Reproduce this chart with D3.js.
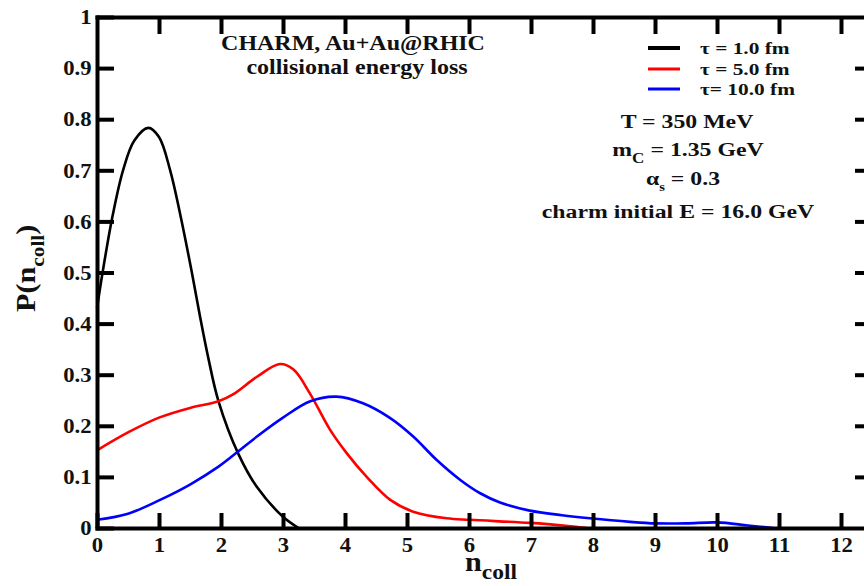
<!DOCTYPE html>
<html lang="en">
<head>
    <meta charset="UTF-8" />
    <title>P(n_coll) charm collisional energy loss</title>
    <script src="https://d3js.org/d3.v7.min.js"></script>
    <style>
        body { margin: 0; background: #fff; }
        text { font-family: "Liberation Serif", "Times New Roman", serif; font-weight: bold; fill: #111; }
    </style>
</head>
<body>
<div id="my_chart"></div>
<script>
    // values
    const nCollTau1 = [0, 0.09, 0.25, 0.42, 0.6, 0.83, 1.0, 1.18, 1.34, 1.53, 1.66, 1.8, 1.96, 2.28, 2.58, 3.0, 3.25];
    const pTau1     = [0.43, 0.5, 0.61, 0.7, 0.758, 0.783, 0.765, 0.7, 0.615, 0.5, 0.415, 0.33, 0.248, 0.145, 0.08, 0.022, 0];

    const nCollTau5 = [0, 0.5, 1.0, 1.5, 1.96, 2.2, 2.58, 2.95, 3.17, 3.44, 3.76, 4.03, 4.35, 4.73, 5.1, 5.64, 6.02, 6.98, 7.52, 7.9];
    const pTau5     = [0.152, 0.187, 0.216, 0.235, 0.248, 0.262, 0.296, 0.321, 0.31, 0.262, 0.192, 0.146, 0.1, 0.055, 0.032, 0.019, 0.016, 0.010, 0.005, 0];

    const nCollTau10 = [0, 0.5, 1.0, 1.5, 1.96, 2.28, 2.58, 3.0, 3.44, 3.86, 4.29, 4.73, 5.1, 5.48, 5.86, 6.18, 6.5, 6.98, 7.5, 7.95, 8.6, 9.0, 9.5, 10.0, 10.5, 10.9];
    const pTau10     = [0.016, 0.028, 0.054, 0.085, 0.12, 0.15, 0.179, 0.216, 0.248, 0.257, 0.244, 0.215, 0.179, 0.133, 0.094, 0.068, 0.05, 0.034, 0.025, 0.019, 0.012, 0.009, 0.009, 0.011, 0.005, 0];

    const seriesNames  = ["τ = 1.0 fm", "τ = 5.0 fm", "τ= 10.0 fm"];
    const seriesColors = ["#000000", "#ff0000", "#0000ff"];

    const xTicks = [0, 1, 2, 3, 4, 5, 6, 7, 8, 9, 10, 11, 12];
    const xTickLabels = ["0", "1", "2", "3", "4", "5", "6", "7", "8", "9", "10", "11", "12"];
    const yTicks = [0, 0.1, 0.2, 0.3, 0.4, 0.5, 0.6, 0.7, 0.8, 0.9, 1];
    const yTickLabels = ["0", "0.1", "0.2", "0.3", "0.4", "0.5", "0.6", "0.7", "0.8", "0.9", "1"];

    const W = 864, H = 586;
    const frame = { left: 97, right: 872, top: 17, bottom: 528 };

    const svg = d3.select("#my_chart").append("svg")
        .attr("width", W).attr("height", H)
        .style("display", "block");

    const x = d3.scaleLinear().domain([0, 12.5]).range([frame.left, frame.right]);
    const y = d3.scaleLinear().domain([0, 1]).range([frame.bottom, frame.top]);

    // curves
    const line = d3.line()
        .x(d => x(d[0]))
        .y(d => y(Math.max(0, d[1])))
        .curve(d3.curveCatmullRom.alpha(0.5));

    const series = [
        d3.zip(nCollTau1, pTau1),
        d3.zip(nCollTau5, pTau5),
        d3.zip(nCollTau10, pTau10)
    ];

    svg.append("g").selectAll("path")
        .data(series)
        .enter()
        .append("path")
        .attr("d", line)
        .attr("fill", "none")
        .attr("stroke", (d, i) => seriesColors[i])
        .attr("stroke-width", 2.6);

    // axes (frame with inward ticks)
    function styleAxis(g) {
        g.select(".domain").attr("stroke", "#000").attr("stroke-width", 4).attr("stroke-linecap", "square");
        g.selectAll(".tick line").attr("stroke", "#000").attr("stroke-width", 4);
        g.selectAll("text").attr("fill", "#111").style("font-size", "21px")
            .style("font-family", "'Liberation Serif', serif").style("font-weight", "bold")
            .attr("transform", "scale(1.08,1)");
    }

    svg.append("g")
        .attr("transform", `translate(0,${frame.bottom})`)
        .call(d3.axisBottom(x).tickValues(xTicks).tickFormat((d, i) => xTickLabels[i])
            .tickSizeInner(-15).tickSizeOuter(0).tickPadding(9))
        .call(styleAxis);

    svg.append("g")
        .attr("transform", `translate(0,${frame.top})`)
        .call(d3.axisTop(x).tickValues(xTicks.slice(1)).tickFormat("")
            .tickSizeInner(-17).tickSizeOuter(0))
        .call(styleAxis);

    svg.append("g")
        .attr("transform", `translate(${frame.left},0)`)
        .call(d3.axisLeft(y).tickValues(yTicks).tickFormat((d, i) => yTickLabels[i])
            .tickSizeInner(-17).tickSizeOuter(0).tickPadding(5))
        .call(styleAxis);

    svg.append("g")
        .attr("transform", `translate(${frame.right},0)`)
        .call(d3.axisRight(y).tickValues(yTicks.slice(1, -1)).tickFormat("")
            .tickSizeInner(-17).tickSizeOuter(0))
        .call(styleAxis);

    // text helper: parts = [[text, size, dy]]
    function label(px, py, anchor, parts, sx, rot) {
        const t = svg.append("text")
            .attr("text-anchor", anchor)
            .attr("transform", `translate(${px},${py})` + (rot ? ` rotate(${rot})` : "") + ` scale(${sx},1)`);
        parts.forEach(p => {
            t.append("tspan").text(p[0]).style("font-size", p[1] + "px").attr("dy", p[2] || 0);
        });
        return t;
    }

    // axis titles
    label(465, 571, "start", [["n", 27], ["coll", 21, 8]], 1.12);
    label(35, 312, "start", [["P(n", 27], ["coll", 19, 9], [")", 27, -9]], 1.12, -90);

    // annotation
    label(353, 50, "middle", [["CHARM, Au+Au@RHIC", 20]], 1.2);
    label(357, 74, "middle", [["collisional energy loss", 20]], 1.2);

    label(687, 128, "middle", [["T = 350 MeV", 19.5]], 1.22);
    label(688, 156, "middle", [["m", 19.5], ["C", 14, 7], [" = 1.35 GeV", 19.5, -7]], 1.22);
    label(683, 185, "middle", [["α", 19.5], ["s", 12, 6], [" = 0.3", 19.5, -6]], 1.22);
    label(678, 218, "middle", [["charm initial E = 16.0 GeV", 19.5]], 1.22);

    // legend
    const legendY = [48, 69, 89];
    const legendW = [4, 3, 3];
    const legend = svg.append("g");
    seriesNames.forEach((name, i) => {
        legend.append("line")
            .attr("x1", 648).attr("x2", 680)
            .attr("y1", legendY[i]).attr("y2", legendY[i])
            .attr("stroke", seriesColors[i])
            .attr("stroke-width", legendW[i]);
        label(700, legendY[i] + 6, "start", [[name, 17.5]], 1.22);
    });
</script>
</body>
</html>
